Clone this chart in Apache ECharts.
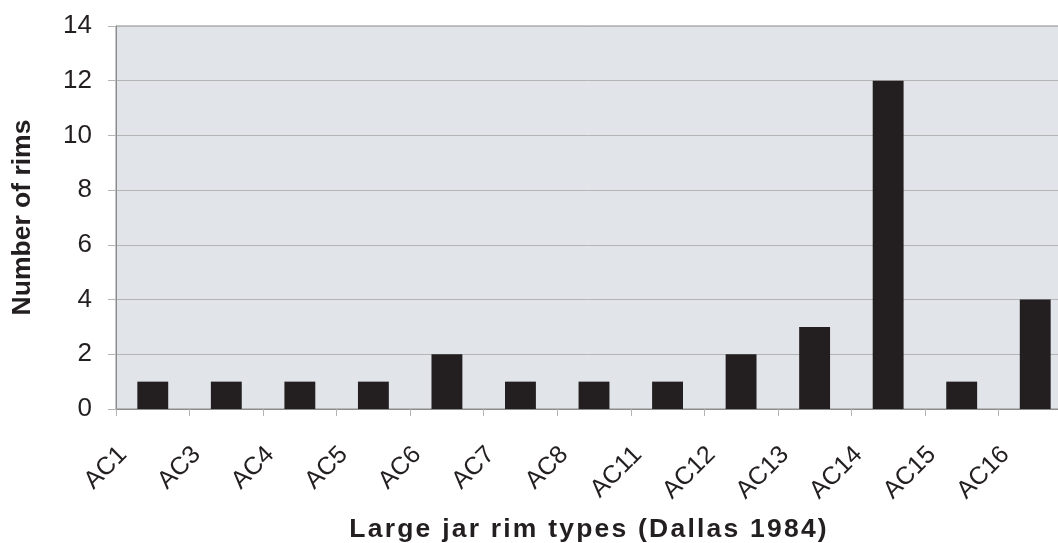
<!DOCTYPE html>
<html>
<head>
<meta charset="utf-8">
<script src="https://cdn.jsdelivr.net/npm/echarts@6/dist/echarts.min.js"></script>
<style>
  html, body { margin: 0; padding: 0; background: #ffffff; }
  #chart { width: 1058px; height: 543px; }
</style>
</head>
<body>
<div id="chart"></div>
<script>
// rim types and counts
const rimTypes = ['AC1', 'AC3', 'AC4', 'AC5', 'AC6', 'AC7', 'AC8', 'AC11', 'AC12', 'AC13', 'AC14', 'AC15', 'AC16']
const rimCounts = [1, 1, 1, 1, 2, 1, 1, 1, 2, 3, 12, 1, 4]
const yTicks = [0, 2, 4, 6, 8, 10, 12, 14]

const xTitle = 'Large jar rim types (Dallas 1984)'
const yTitle = 'Number of rims'

// spread letters a little, the original title is letter-spaced
const spaced = (s) => s.split('').join('\u200A')

const chart = echarts.init(document.getElementById('chart'))

const option = {
  backgroundColor: '#ffffff',
  animation: false,
  textStyle: { fontFamily: 'Liberation Sans, Arial, sans-serif' },
  grid: {
    left: 116,
    top: 26,
    width: 956, // plot runs past the right edge in the original
    bottom: 134,
    outerBoundsMode: 'none',
    show: true,
    backgroundColor: '#e1e4e9',
    borderColor: '#8c8c8c',
    borderWidth: 1
  },
  xAxis: {
    type: 'category',
    data: rimTypes,
    name: spaced(xTitle),
    nameLocation: 'middle',
    nameGap: 107,
    nameTextStyle: {
      fontSize: 26.5,
      fontWeight: 'bold',
      color: '#231f20',
      padding: [0, 12, 0, 0]
    },
    axisLine: { lineStyle: { color: '#8c8c8c', width: 1 } },
    axisTick: { show: true, length: 7, lineStyle: { color: '#b4b4b4' } },
    axisLabel: {
      rotate: 45,
      fontSize: 25,
      color: '#231f20',
      margin: 12,
      padding: [0, 42, 0, 0],
      interval: 0
    }
  },
  yAxis: {
    type: 'value',
    min: yTicks[0],
    max: yTicks[yTicks.length - 1],
    interval: 2,
    name: yTitle,
    nameLocation: 'middle',
    nameRotate: 90,
    nameGap: 80,
    nameTextStyle: {
      fontSize: 26.5,
      fontWeight: 'bold',
      color: '#231f20'
    },
    axisLine: { show: true, lineStyle: { color: '#8c8c8c', width: 1 } },
    axisTick: { show: true, length: 8, lineStyle: { color: '#b4b4b4' } },
    axisLabel: {
      fontSize: 26,
      color: '#231f20',
      margin: 24
    },
    splitLine: { show: true, lineStyle: { color: '#b4b4b4', width: 1 } }
  },
  series: [
    {
      type: 'bar',
      data: rimCounts,
      barWidth: '42%',
      itemStyle: { color: '#231f20' }
    }
  ]
}

chart.setOption(option)
</script>
</body>
</html>
